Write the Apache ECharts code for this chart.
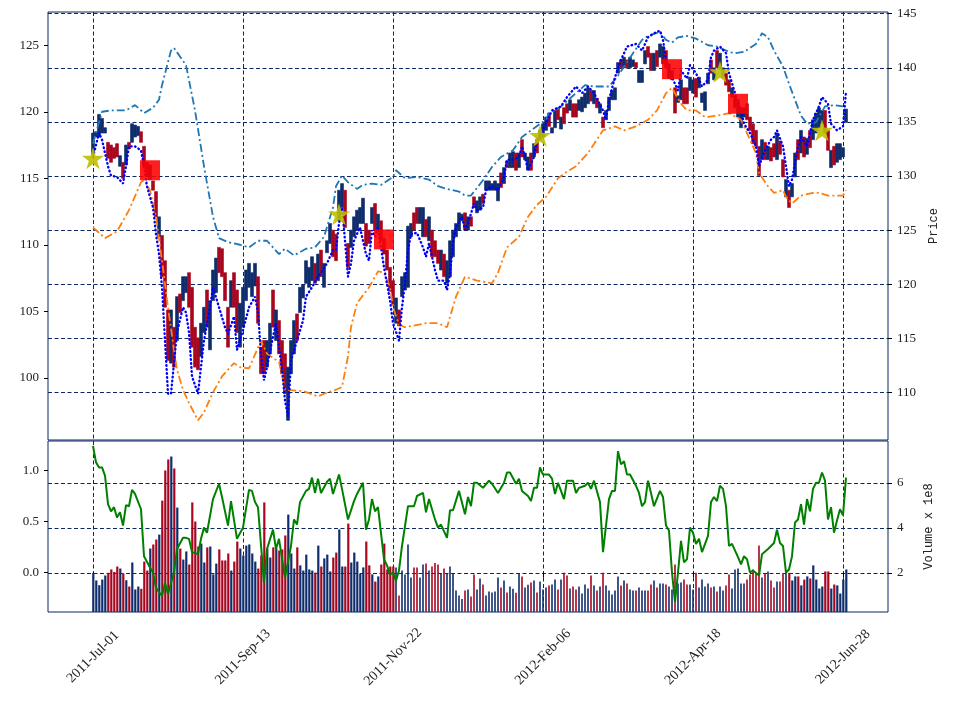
<!DOCTYPE html>
<html><head><meta charset="utf-8">
<script src="https://cdn.jsdelivr.net/npm/echarts@6/dist/echarts.min.js"></script>
<style>html,body{margin:0;padding:0;background:#fff}#c{width:959px;height:704px}</style>
</head><body><div id="c"></div>
<script>
// ---------------- data ----------------
const holidays = ['2011-07-04','2011-09-05','2011-11-24','2011-12-26','2012-01-02','2012-01-16','2012-02-20','2012-04-06','2012-05-28'];
const startDate = [2011, 6, 1];
const tickDays = [0, 50, 100, 150, 200, 250];
const priceTicksLeft = [100, 105, 110, 115, 120, 125];
const priceTicksRight = [110, 115, 120, 125, 130, 135, 140, 145];
const oscTicks = [0, 0.5, 1.0];
const volTicks = [2, 4, 6];

const openPx = [
116.8,118.1,118.1,118.4,118.4,117.7,117.5,117.3,117.6,115.9,
116.2,116.0,117.7,117.7,118.1,118.2,118.5,117.4,116.2,114.9,
114.8,114.0,110.6,110.7,108.8,105.1,101.1,103.8,102.8,106.3,
105.8,106.4,107.9,106.8,103.8,103.0,101.6,103.4,106.6,102.1,
105.8,106.4,109.8,109.7,107.9,105.3,105.3,107.9,106.6,102.3,
103.8,105.8,106.8,106.1,106.9,107.6,102.3,102.8,100.8,101.8,
106.6,102.8,104.3,102.8,101.8,96.8,100.3,101.8,104.8,104.9,
106.0,107.1,106.8,107.3,108.6,107.3,109.6,106.8,109.4,110.1,
111.1,110.8,111.8,112.8,114.1,110.1,109.8,110.6,111.1,111.6,
111.6,111.6,111.1,111.6,113.1,111.1,111.8,110.5,109.6,108.3,
107.3,104.1,105.1,106.1,106.6,106.8,110.6,112.4,112.8,111.6,
110.6,111.9,110.3,111.1,110.3,109.6,108.1,109.3,107.1,107.6,
109.1,110.6,111.1,111.8,112.4,111.1,112.1,113.6,112.4,112.6,
113.8,114.1,114.1,114.1,114.1,113.3,115.4,114.6,116.3,115.8,
115.8,116.9,115.8,117.9,116.4,115.6,116.9,116.6,117.9,117.9,
118.1,118.6,119.9,118.4,118.8,120.3,118.7,120.3,120.6,120.1,
120.6,120.6,120.1,120.0,120.3,120.6,121.6,120.6,121.0,119.9,
119.6,119.4,120.1,120.9,120.9,122.9,123.9,123.3,123.9,123.3,
123.4,123.7,122.2,122.2,123.6,124.9,124.4,123.1,124.6,124.1,
123.6,124.6,122.5,122.4,121.8,120.7,120.9,121.8,121.8,121.6,
121.4,122.5,121.8,120.7,120.1,122.1,123.9,122.4,124.6,123.2,
122.6,122.9,122.4,121.1,120.3,119.6,118.8,119.6,120.6,119.6,
119.1,118.6,117.4,116.4,117.7,116.4,117.3,117.6,116.4,117.8,
116.4,113.6,114.1,113.6,115.1,117.9,116.9,118.1,116.8,118.6,
117.9,118.4,118.8,119.1,120.1,118.6,115.8,117.4,116.2,116.4,
116.6,119.2];
const closePx = [
118.4,118.5,119.8,119.5,118.8,116.5,116.2,116.5,116.6,116.7,
115.0,117.5,117.2,119.1,119.0,118.9,117.7,115.9,115.2,116.0,
114.1,112.1,112.1,107.6,105.3,101.3,105.1,100.8,106.1,104.9,
107.6,107.6,105.3,102.3,100.8,100.6,104.1,105.3,103.8,105.8,
108.1,109.0,107.9,107.6,105.8,102.3,107.3,105.3,103.4,105.6,
106.8,108.1,108.6,107.9,108.6,104.1,100.3,100.3,102.8,104.1,
103.8,105.1,101.8,100.3,98.8,100.8,102.8,104.3,102.8,106.8,
107.0,108.8,108.3,109.1,107.1,109.3,107.6,108.6,110.3,111.6,
109.1,108.8,114.1,114.6,111.3,108.3,111.1,112.1,112.6,112.8,
113.5,109.9,110.1,112.8,111.1,112.3,110.3,109.3,108.1,106.5,
105.5,106.0,103.9,107.6,107.9,111.4,111.6,111.1,111.6,112.8,
112.8,110.6,112.1,109.1,109.1,108.6,109.6,107.6,108.8,110.3,
111.1,111.6,112.4,112.3,111.1,112.1,111.4,112.8,113.3,113.6,
113.1,114.8,114.8,114.6,114.8,114.6,114.3,115.8,115.8,116.9,
117.0,115.6,116.9,116.6,116.9,116.6,115.6,117.6,116.9,118.6,
119.1,119.6,118.9,118.8,120.1,119.4,119.6,119.1,119.9,120.9,
119.6,119.6,120.9,121.1,121.4,121.8,120.8,121.6,120.3,120.6,
118.8,120.1,121.1,121.6,121.8,123.7,123.3,124.1,123.3,124.1,
123.9,123.3,123.1,123.1,124.6,124.1,123.1,124.4,123.4,125.1,
124.9,123.3,123.6,123.1,119.9,121.2,122.4,120.6,120.6,122.6,
122.4,121.1,122.6,121.4,121.5,122.9,122.9,123.3,123.3,124.4,
123.3,122.0,121.5,121.8,121.2,120.9,120.3,120.3,119.4,118.6,
117.6,117.4,115.2,117.9,116.4,117.4,116.3,116.6,118.4,116.8,
115.1,114.9,112.8,114.6,116.9,116.4,118.6,116.6,118.0,117.3,
119.4,119.9,120.3,120.1,118.4,117.1,117.1,116.0,117.6,117.6,
117.3,120.2];
const volume = [
2.00,1.66,1.45,1.70,1.88,2.00,2.15,2.04,2.28,2.19,
1.97,1.67,1.39,2.46,1.26,1.39,1.29,2.50,2.10,3.08,
3.26,3.48,3.70,5.21,6.55,7.04,7.17,6.64,4.90,3.08,
2.59,2.95,2.37,5.13,4.28,3.17,3.30,2.46,3.13,3.17,
1.93,2.41,3.04,2.55,2.55,2.86,2.10,2.50,3.39,3.08,
2.77,3.21,3.26,2.86,2.50,2.19,2.77,5.13,3.08,2.68,
3.13,3.08,2.99,3.04,3.66,4.59,2.86,2.19,3.13,2.33,
2.10,2.81,2.15,2.10,2.01,3.21,2.28,2.64,2.81,2.06,
2.68,2.90,3.93,2.28,2.28,4.19,2.46,2.90,2.50,1.97,
2.24,3.39,2.33,1.93,1.61,1.84,2.37,3.30,2.15,2.28,
2.28,2.24,0.99,2.10,1.93,3.26,1.79,2.24,2.24,1.79,
2.37,2.41,2.10,2.28,2.44,2.37,1.97,2.19,1.97,2.28,
1.97,1.21,0.99,0.84,1.21,1.26,0.95,1.93,1.26,1.75,
1.48,0.99,1.17,1.13,1.17,1.79,1.35,1.66,1.13,1.39,
1.29,1.11,1.97,1.84,1.35,1.47,1.57,1.66,1.13,1.61,
1.26,1.35,1.44,1.48,1.70,1.26,1.70,2.00,1.88,1.30,
1.39,1.26,1.39,1.08,1.48,1.30,1.88,1.44,1.21,1.39,
2.00,1.44,1.21,1.04,1.21,1.84,1.44,1.66,1.53,1.26,
1.21,1.21,1.35,1.21,1.21,1.21,1.48,1.66,1.35,1.53,
1.53,1.48,1.39,1.26,2.37,1.53,1.57,1.70,1.48,1.48,
1.26,2.00,1.35,1.70,1.39,1.53,1.35,1.39,1.17,1.39,
1.21,1.44,1.93,1.30,2.15,2.19,1.53,1.53,1.70,1.93,
2.15,1.97,3.21,1.79,1.97,2.06,1.66,1.35,1.61,1.61,
1.97,1.97,2.00,1.66,1.84,1.84,1.44,1.70,1.84,1.75,
2.33,1.70,1.30,1.39,2.06,2.06,1.30,1.48,1.44,1.08,
1.70,2.15];

// upper band (dash-dot blue): sampled days / values
const upperDays = [0,3,6,11,14,17,20,22,23,26,27,31,34,37,40,42,45,49,52,55,58,62,64,67,71,74,77,80,81,83,85,88,90,93,96,100,101,104,108,112,115,118,122,124,126,130,133,136,140,143,146,151,152,155,160,164,167,172,175,180,183,185,189,191,193,195,198,201,205,208,212,214,217,221,223,225,227,230,232,234,236,238,241,244,247,250];
const upperVals = [117.6,120.0,120.1,120.1,120.5,119.9,120.3,120.9,122.0,124.6,124.8,123.5,120.1,115.9,112.1,110.5,110.2,110.0,109.8,110.3,110.3,109.3,109.7,109.2,109.7,109.8,110.6,112.8,114.4,115.2,114.7,114.2,114.5,114.6,114.5,115.1,115.6,115.0,115.1,114.9,114.4,114.2,114.0,113.7,113.7,114.85,115.85,116.6,117.1,118.1,118.6,119.4,119.9,120.2,121.2,122.0,121.9,121.9,122.7,124.4,125.4,125.7,126.0,125.4,125.2,125.6,125.7,125.5,125.0,124.9,124.5,124.4,124.5,125.1,125.9,125.6,124.6,123.4,122.1,120.9,119.7,119.1,119.2,120.4,120.5,120.4];

// lower line (dash-dot orange)
const lowerDays = [0,4,8,12,16,17,19,21,23,25,27,28,30,32,35,37,40,43,47,49,52,56,58,62,64,70,75,77,81,83,85,86,88,92,95,97,99,100,102,104,111,115,118,121,124,128,133,135,138,142,145,148,151,155,158,161,165,170,174,177,181,185,188,191,193,196,198,201,204,208,212,216,218,221,222,225,227,230,231,233,236,240,242,245,250,251];
const lowerVals = [111.3,110.5,111.0,112.6,114.7,114.85,114.1,112.1,108.8,105.3,102.1,100.6,99.1,98.1,96.8,97.4,98.9,100.1,101.1,100.8,100.7,102.8,101.8,101.2,99.1,99.0,98.6,98.8,99.1,99.3,101.6,103.8,105.6,106.8,108.0,107.9,106.8,105.3,104.0,103.8,104.1,104.1,103.8,106.1,107.6,107.3,107.1,107.9,109.8,110.6,112.1,113.0,113.6,115.0,115.5,115.9,116.9,118.6,118.9,118.6,118.9,119.4,120.1,121.4,121.8,120.6,120.1,120.1,119.6,119.7,119.9,119.4,118.4,116.9,115.4,114.4,113.9,114.1,113.6,113.1,113.7,113.9,113.9,113.7,113.7,114.1];

// dotted blue line
const dotDays = [0,2,3,5,6,8,10,11,12,14,16,17,18,20,21,22,23,24,25,26,27,28,30,31,32,33,35,36,37,39,40,42,44,45,47,48,50,52,54,55,56,57,58,60,61,62,63,64,65,66,68,70,71,73,75,76,78,80,81,82,83,84,85,86,87,89,91,92,93,94,95,96,97,99,100,102,103,104,105,106,108,110,111,112,114,115,117,118,119,120,121,123,124,125,127,128,130,131,133,135,137,138,140,142,143,144,145,147,148,150,152,153,156,158,161,163,165,167,170,171,172,174,176,178,181,183,185,187,189,190,191,193,195,196,198,199,201,203,205,206,207,209,211,212,214,216,217,219,221,222,224,226,227,228,230,231,232,233,235,236,238,240,242,243,245,246,248,250,251];
const dotVals = [116.6,118.4,117.9,115.9,115.2,115.1,114.6,115.9,117.4,117.4,117.1,115.9,114.4,112.8,110.8,109.3,106.8,102.8,98.8,98.8,101.1,103.4,105.3,104.9,103.4,100.1,98.8,100.8,102.8,105.3,106.8,105.3,103.8,103.3,104.6,102.1,103.6,105.3,106.1,104.9,101.8,99.8,100.8,103.1,104.1,102.3,100.6,98.3,97.1,101.3,102.8,104.3,106.1,106.8,107.6,107.9,108.6,109.6,109.6,111.6,112.8,110.3,107.6,108.6,110.3,111.3,109.3,108.8,111.1,110.6,111.3,109.8,108.3,105.8,104.1,102.8,105.3,107.1,109.6,110.8,110.9,109.8,109.1,110.1,108.1,107.3,107.3,106.6,107.8,110.1,111.3,112.1,111.1,111.6,113.1,112.6,112.8,114.1,114.4,114.1,115.1,116.4,116.4,116.6,117.4,116.6,115.6,116.6,117.9,118.6,119.6,120.1,120.4,121.1,121.9,121.4,121.9,121.4,120.1,119.4,120.9,122.6,123.9,124.9,125.1,124.6,125.6,125.9,126.1,125.4,123.9,122.6,121.6,123.1,122.5,123.5,122.9,121.9,122.4,124.1,124.6,124.9,124.4,122.9,121.4,120.1,119.1,118.4,117.4,115.9,117.1,117.9,118.1,118.6,117.4,115.9,114.4,114.9,117.4,118.1,117.4,119.4,120.4,121.1,120.6,119.1,118.6,118.9,121.5];

// oscillator (green)
const oscDays = [0,1,2,3,4,5,6,7,8,9,10,11,12,13,14,16,17,19,20,21,23,24,25,27,28,30,31,32,33,35,36,37,38,40,42,43,45,46,48,50,52,53,54,55,57,58,60,61,62,64,66,67,68,69,71,72,73,74,75,76,78,79,80,82,83,85,87,88,90,91,92,93,94,95,97,98,99,100,101,102,103,105,107,108,110,111,112,114,115,116,118,119,120,122,124,125,126,127,128,130,132,133,135,137,138,139,141,142,143,145,146,147,148,149,150,152,153,154,155,156,157,158,160,161,162,164,165,166,167,169,170,171,172,173,174,175,176,177,178,179,181,182,183,184,185,186,187,189,190,191,192,193,194,195,196,197,198,199,200,201,202,203,205,206,207,208,209,210,211,212,213,215,216,217,218,219,220,222,223,225,226,227,228,229,230,231,232,233,234,235,236,237,238,239,240,241,242,243,244,245,246,247,248,249,250,251];
const oscVals = [1.24,1.08,1.03,1.03,0.95,0.67,0.60,0.64,0.54,0.59,0.46,0.66,0.65,0.81,0.77,0.62,0.16,0.05,0.0,-0.15,-0.23,-0.10,-0.21,0.0,0.23,0.34,0.34,0.33,0.20,0.18,0.33,0.44,0.39,0.72,0.87,0.74,0.46,0.70,0.33,0.44,0.81,0.80,0.69,0.64,-0.10,0.23,0.42,0.23,0.33,-0.05,0.26,0.52,0.47,0.69,0.80,0.82,0.93,0.78,0.92,0.78,0.89,0.92,0.77,0.96,0.82,0.52,0.70,0.77,0.88,0.42,0.52,0.72,0.60,0.64,0.13,0.07,-0.02,0.0,-0.08,0.02,0.26,0.65,0.65,0.75,0.78,0.59,0.72,0.52,0.44,0.47,0.34,0.61,0.61,0.80,0.57,0.74,0.65,0.88,0.88,0.83,0.90,0.87,0.78,0.88,0.98,0.98,0.87,0.92,0.80,0.75,0.70,0.83,0.83,1.03,0.96,0.96,0.92,0.77,0.88,0.80,0.72,0.90,0.90,0.78,0.83,0.85,0.88,0.82,0.90,0.69,0.20,0.46,0.72,0.80,0.80,1.19,1.06,1.09,0.96,0.96,0.85,0.78,0.65,0.69,0.90,0.78,0.65,0.80,0.74,0.46,0.41,0.0,-0.29,0.0,0.31,0.10,0.13,0.44,0.39,0.28,0.33,0.20,0.36,0.69,0.74,0.70,0.85,0.82,0.65,0.26,0.28,0.15,0.08,0.16,0.13,0.0,0.02,-0.03,0.18,0.23,0.26,0.29,0.42,0.29,0.26,0.0,0.03,0.16,0.49,0.52,0.67,0.47,0.72,0.60,0.82,0.88,0.88,0.98,0.90,0.52,0.64,0.39,0.51,0.62,0.56,0.93];

// signals
const sellDays = [19, 97, 193, 215];
const sellVals = [115.6, 110.4, 123.2, 120.6];
const buyDays = [0, 82, 149, 209, 243];
const buyVals = [116.5, 112.3, 118.2, 123.0, 118.6];

// day ranges whose volume bars are drawn wide
const thickRanges = [[0, 100], [232, 251]];

// ---------------- build ----------------
const OFFSET = 15, NCAT = 281;
const MONTHS = ['Jan','Feb','Mar','Apr','May','Jun','Jul','Aug','Sep','Oct','Nov','Dec'];
function tradingDates(n) {
  const d = new Date(Date.UTC(startDate[0], startDate[1], startDate[2]));
  const out = [];
  while (out.length < n) {
    const wd = d.getUTCDay();
    const iso = d.toISOString().slice(0, 10);
    if (wd !== 0 && wd !== 6 && holidays.indexOf(iso) < 0) {
      out.push(d.getUTCFullYear() + '-' + MONTHS[d.getUTCMonth()] + '-' + String(d.getUTCDate()).padStart(2, '0'));
    }
    d.setUTCDate(d.getUTCDate() + 1);
  }
  return out;
}
const nDays = openPx.length;
const dates = tradingDates(nDays);
const cats = [];
for (let k = 0; k < NCAT; k++) {
  const day = k - OFFSET;
  cats.push(day >= 0 && day < nDays ? dates[day] : ' ' + k);
}
const tickSet = new Set(tickDays.map(d => d + OFFSET));
const isTick = (idx) => tickSet.has(idx);

const UP = '#0f2c6b', DOWN = '#a8061f', NAVY = '#0b2766';
const candleData = [], thickVol = [], thinVol = [];
for (let k = 0; k < NCAT; k++) {
  const day = k - OFFSET;
  if (day >= 0 && day < nDays) {
    const o = openPx[day], c = closePx[day];
    candleData.push([o, c, Math.min(o, c), Math.max(o, c)]);
    const col = c >= o ? UP : DOWN;
    const thick = thickRanges.some(r => day >= r[0] && day <= r[1]);
    const item = { value: volume[day], itemStyle: { color: col } };
    thickVol.push(thick ? item : '-');
    thinVol.push(thick ? '-' : item);
  } else {
    candleData.push('-'); thickVol.push('-'); thinVol.push('-');
  }
}
const pairs = (days, vals) => days.map((d, i) => [d + OFFSET, vals[i]]);

const SERIF = 'Liberation Serif';
const labelStyle = { fontFamily: SERIF, fontSize: 13, color: '#222' };
const dashed = { color: NAVY, width: 1, type: [4, 2.5] };
const star = 'path://M50,0 L61.2,35.3 L98.1,35.3 L68.2,57.1 L79.4,92.5 L50,70.6 L20.6,92.5 L31.8,57.1 L1.9,35.3 L38.8,35.3 Z';

function xAxis(gi, withLabels) {
  return {
    type: 'category', gridIndex: gi, data: cats, boundaryGap: false,
    axisLine: { show: false },
    axisTick: { show: withLabels, interval: isTick, length: 5, lineStyle: { color: '#000' } },
    axisLabel: withLabels ? Object.assign({}, labelStyle, { show: true, interval: isTick, rotate: 45, margin: 45, align: 'center', verticalAlign: 'middle', fontSize: 14 }) : { show: false },
    splitLine: { show: true, interval: isTick, lineStyle: dashed }
  };
}
function yAxis(gi, pos, min, max, ticks, opts) {
  return Object.assign({
    type: 'value', gridIndex: gi, position: pos, min: min, max: max,
    axisLine: { show: false },
    axisTick: { show: true, customValues: ticks, length: 4, lineStyle: { color: '#000' } },
    axisLabel: Object.assign({ show: true, customValues: ticks, margin: 9 }, labelStyle),
    splitLine: { show: false }
  }, opts || {});
}

const option = {
  animation: false,
  backgroundColor: '#fff',
  grid: [
    { left: 48, top: 12, width: 840, height: 428, show: true, borderColor: NAVY, borderWidth: 1, backgroundColor: 'transparent' },
    { left: 48, top: 441, width: 840, height: 171, show: true, borderColor: NAVY, borderWidth: 1, backgroundColor: 'transparent' }
  ],
  xAxis: [xAxis(0, false), xAxis(1, true)],
  yAxis: [
    yAxis(0, 'left', 95.32, 127.5, priceTicksLeft),
    yAxis(0, 'right', 105.6, 145.16, priceTicksRight, {
      splitLine: { show: true, lineStyle: dashed },
      name: 'Price', nameLocation: 'middle', nameRotate: 90, nameGap: 32,
      nameTextStyle: { fontFamily: 'Liberation Mono', fontSize: 12, color: '#222' }
    }),
    yAxis(1, 'left', -0.387, 1.289, oscTicks, {
      axisLabel: Object.assign({ show: true, customValues: oscTicks, margin: 9, formatter: v => Number(v).toFixed(1) }, labelStyle)
    }),
    yAxis(1, 'right', 0.258, 7.86, volTicks, {
      splitLine: { show: true, lineStyle: dashed },
      name: 'Volume x 1e8', nameLocation: 'middle', nameRotate: 90, nameGap: 35,
      nameTextStyle: { fontFamily: 'Liberation Mono', fontSize: 12, color: '#222' }
    })
  ],
  series: [
    { type: 'candlestick', xAxisIndex: 0, yAxisIndex: 0, data: candleData, barWidth: 2.6, z: 2,
      itemStyle: { color: UP, color0: DOWN, borderColor: UP, borderColor0: DOWN, borderWidth: 0.6 } },
    { type: 'line', xAxisIndex: 0, yAxisIndex: 0, data: pairs(upperDays, upperVals), showSymbol: false, z: 3,
      lineStyle: { color: '#1f77b4', width: 1.8, type: [8, 3, 2, 3] } },
    { type: 'line', xAxisIndex: 0, yAxisIndex: 0, data: pairs(lowerDays, lowerVals), showSymbol: false, z: 3,
      lineStyle: { color: '#ff7f0e', width: 1.8, type: [8, 3, 2, 3] } },
    { type: 'line', xAxisIndex: 0, yAxisIndex: 0, data: pairs(dotDays, dotVals), showSymbol: false, z: 4,
      lineStyle: { color: '#0000ff', width: 2.4, type: [0.5, 3.5], cap: 'round' } },
    { type: 'scatter', xAxisIndex: 0, yAxisIndex: 0, data: pairs(sellDays, sellVals), symbol: 'rect', symbolSize: 20, z: 5,
      itemStyle: { color: '#ff0000', opacity: 0.88 } },
    { type: 'scatter', xAxisIndex: 0, yAxisIndex: 0, data: pairs(buyDays, buyVals), symbol: star, symbolSize: 22, z: 6,
      itemStyle: { color: '#bfbf00', opacity: 0.9 } },
    { type: 'bar', xAxisIndex: 1, yAxisIndex: 3, data: thickVol, barWidth: 2.2, barGap: '-100%', z: 2 },
    { type: 'bar', xAxisIndex: 1, yAxisIndex: 3, data: thinVol, barWidth: 1.6, barGap: '-100%', z: 2 },
    { type: 'line', xAxisIndex: 1, yAxisIndex: 2, data: pairs(oscDays, oscVals), showSymbol: false, z: 4,
      lineStyle: { color: '#008000', width: 2 } }
  ]
};
const chart = echarts.init(document.getElementById('c'), null, { renderer: 'canvas' });
chart.setOption(option);
</script>
</body></html>
